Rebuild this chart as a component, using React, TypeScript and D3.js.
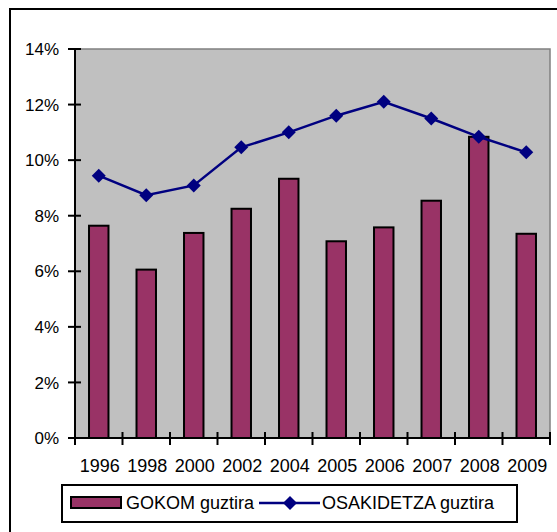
import React from "react";
import * as d3 from "d3";

const categories = ["1996", "1998", "2000", "2002", "2004", "2005", "2006", "2007", "2008", "2009"];
const gokomValues = [7.64, 6.06, 7.38, 8.25, 9.33, 7.08, 7.58, 8.54, 10.84, 7.35];
const osakidetzaValues = [9.44, 8.74, 9.09, 10.46, 11.0, 11.6, 12.1, 11.5, 10.84, 10.28];
const yTicks = [0, 2, 4, 6, 8, 10, 12, 14];
const seriesNames = ["GOKOM guztira", "OSAKIDETZA guztira"];

const W = 557;
const H = 532;
const plot = { left: 75, right: 550, top: 49, bottom: 438 };
const FONT = "'Liberation Sans', Arial, sans-serif";
const FS = 18;
const FSY = 17;
const FSL = 18;

export default function App() {
  const x = d3.scaleBand<string>().domain(categories).range([plot.left, plot.right]).paddingInner(0).paddingOuter(0);
  const y = d3.scaleLinear().domain([0, 14]).range([plot.bottom, plot.top]);
  const bw = x.bandwidth();
  const barW = bw * 0.41;
  const line = d3
    .line<number>()
    .x((_, i) => (x(categories[i]) as number) + bw / 2)
    .y((d) => y(d));
  const diamond = (cx: number, cy: number, r: number) =>
    `M${cx},${cy - r}L${cx + r},${cy}L${cx},${cy + r}L${cx - r},${cy}Z`;
  const xBoundaries = categories.map((c) => x(c) as number).concat([plot.right]);

  return (
    <svg
      width={W}
      height={H}
      style={{ position: "absolute", left: 0, top: 0, background: "#fff" }}
      fontFamily={FONT}
    >
      <rect x={0} y={0} width={W} height={H} fill="#fff" />
      <rect x={10} y={9} width={600} height={600} fill="none" stroke="#000" strokeWidth={2} />
      {/* plot area */}
      <rect
        x={plot.left}
        y={plot.top}
        width={plot.right - plot.left}
        height={plot.bottom - plot.top}
        fill="#C0C0C0"
        stroke="#808080"
        strokeWidth={1.5}
      />
      {/* bars */}
      {gokomValues.map((v, i) => {
        const cx = (x(categories[i]) as number) + bw / 2;
        return (
          <rect
            key={i}
            x={cx - barW / 2}
            y={y(v)}
            width={barW}
            height={plot.bottom - y(v)}
            fill="#993366"
            stroke="#000"
            strokeWidth={2}
          />
        );
      })}
      {/* axes */}
      <line x1={plot.left} y1={plot.top} x2={plot.left} y2={plot.bottom} stroke="#000" strokeWidth={2} />
      <line x1={plot.left} y1={plot.bottom} x2={plot.right + 1} y2={plot.bottom} stroke="#000" strokeWidth={2} />
      {yTicks.map((t) => (
        <g key={t}>
          <line x1={plot.left - 7} x2={plot.left + 6} y1={y(t)} y2={y(t)} stroke="#000" strokeWidth={2} />
          <text x={59} y={y(t)} dy="0.36em" textAnchor="end" fontSize={FSY} fill="#000">
            {t}%
          </text>
        </g>
      ))}
      {xBoundaries.map((bx, i) => (
        <line key={i} x1={bx} x2={bx} y1={plot.bottom - 6} y2={plot.bottom + 7} stroke="#000" strokeWidth={2} />
      ))}
      {categories.map((c) => (
        <text
          key={c}
          x={(x(c) as number) + bw / 2 + 1}
          y={472}
          textAnchor="middle"
          fontSize={FS}
          fill="#000"
        >
          {c}
        </text>
      ))}
      {/* line series */}
      <path d={line(osakidetzaValues) || ""} fill="none" stroke="#000080" strokeWidth={2.5} />
      {osakidetzaValues.map((v, i) => (
        <path key={i} d={diamond((x(categories[i]) as number) + bw / 2, y(v), 7)} fill="#000080" />
      ))}
      {/* legend */}
      <rect x={62} y={485} width={455} height={37} fill="#fff" stroke="#000" strokeWidth={2} />
      <rect x={71} y={497} width={50} height={11} fill="#993366" stroke="#000" strokeWidth={2} />
      <text x={126} y={509} fontSize={FSL} fill="#000">
        {seriesNames[0]}
      </text>
      <line x1={259} x2={320} y1={503} y2={503} stroke="#000080" strokeWidth={2.5} />
      <path d={diamond(290, 503, 7)} fill="#000080" />
      <text x={322} y={509} fontSize={FSL} fill="#000">
        {seriesNames[1]}
      </text>
    </svg>
  );
}
